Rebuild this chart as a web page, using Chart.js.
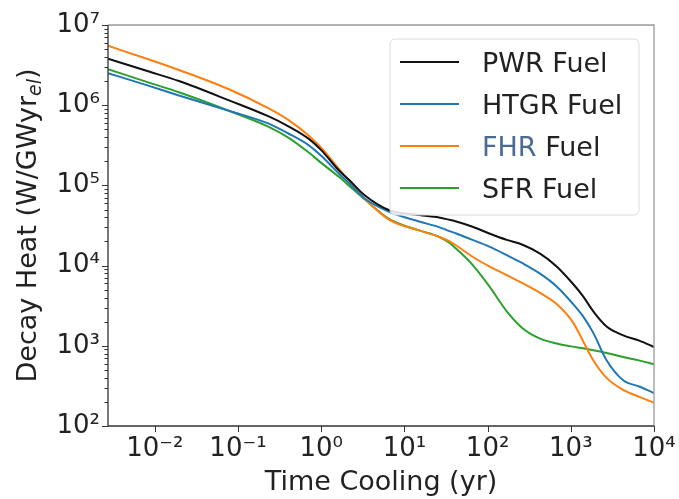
<!DOCTYPE html>
<html>
<head>
<meta charset="utf-8">
<script src="https://cdn.jsdelivr.net/npm/chart.js@4.4.0/dist/chart.umd.min.js"></script>
<style>
  html, body { margin: 0; padding: 0; background: #fff; }
</style>
</head>
<body>
<canvas id="decayChart" width="679" height="499"></canvas>
<script>
// cooling time (yr) and decay heat (W/GWyr_el)
var years = [0.00274, 0.00851, 0.0195, 0.078, 0.234, 0.398, 0.71, 1.0, 1.66, 2.2, 3.3, 6.6, 15, 26, 35, 42, 66, 105, 170, 263, 427, 676, 1047, 1400, 1862, 2692, 4266, 6761, 10000];

var pwrFuel = [3.80e6, 2.63e6, 2.00e6, 1.15e6, 7.24e5, 5.50e5, 3.80e5, 2.75e5, 1.51e5, 1.15e5, 7.59e4, 4.90e4, 4.27e4, 3.98e4, 3.72e4, 3.55e4, 3.05e4, 2.51e4, 2.09e4, 1.82e4, 1.41e4, 9770, 6030, 4170, 2690, 1740, 1350, 1150, 966];
var htgrFuel = [2.51e6, 1.74e6, 1.32e6, 8.51e5, 5.89e5, 4.47e5, 3.16e5, 2.34e5, 1.38e5, 1.05e5, 6.92e4, 4.68e4, 3.55e4, 3.02e4, 2.69e4, 2.51e4, 2.09e4, 1.72e4, 1.35e4, 1.07e4, 7940, 5500, 3390, 2340, 1450, 661, 372, 309, 257];
var fhrFuel = [5.50e6, 3.72e6, 2.75e6, 1.58e6, 9.12e5, 6.61e5, 4.17e5, 2.95e5, 1.58e5, 1.12e5, 6.92e4, 3.72e4, 2.75e4, 2.29e4, 2.00e4, 1.78e4, 1.29e4, 9770, 7590, 6030, 4570, 3310, 2000, 1150, 661, 398, 282, 229, 195];
var sfrFuel = [2.82e6, 1.91e6, 1.45e6, 8.51e5, 5.37e5, 3.98e5, 2.57e5, 1.91e5, 1.26e5, 9.77e4, 6.76e4, 3.80e4, 2.75e4, 2.29e4, 1.91e4, 1.62e4, 1.02e4, 5500, 2690, 1660, 1230, 1070, 977, 933, 881, 813, 724, 653, 589];

var seriesNames = ['PWR Fuel', 'HTGR Fuel', 'FHR Fuel', 'SFR Fuel'];
var seriesColors = ['#111111', '#1f77b4', '#ff7f0e', '#2ca02c'];

var xTicks = [1e-2, 1e-1, 1, 10, 100, 1000, 10000];
var xTickLabels = ['10⁻²', '10⁻¹', '10⁰', '10¹', '10²', '10³', '10⁴'];
var yTicks = [1e2, 1e3, 1e4, 1e5, 1e6, 1e7];
var yTickLabels = ['10²', '10³', '10⁴', '10⁵', '10⁶', '10⁷'];

var FONT = 'DejaVu Sans';

function toPoints(vals) {
  var pts = [];
  for (var i = 0; i < years.length; i++) {
    pts.push({ x: years[i], y: vals[i] });
  }
  return pts;
}

// y minor ticks at 2..9 of each decade
var yAllTicks = [];
for (var d = 0; d < yTicks.length; d++) {
  yAllTicks.push({ value: yTicks[d], major: true });
  if (d < yTicks.length - 1) {
    for (var m = 2; m <= 9; m++) yAllTicks.push({ value: yTicks[d] * m, major: false });
  }
}

var extras = {
  id: 'extras',
  afterDraw: function(chart) {
    var ctx = chart.ctx;
    var a = chart.chartArea;
    var xs = chart.scales.x, ys = chart.scales.y;
    ctx.save();

    // frame
    ctx.lineWidth = 1.3;
    ctx.strokeStyle = '#9a9a9a';
    ctx.beginPath();
    ctx.moveTo(a.left, a.top); ctx.lineTo(a.right, a.top); ctx.lineTo(a.right, a.bottom);
    ctx.stroke();
    ctx.strokeStyle = '#333';
    ctx.beginPath();
    ctx.moveTo(a.left, a.top); ctx.lineTo(a.left, a.bottom); ctx.lineTo(a.right, a.bottom);
    ctx.stroke();

    // tick marks
    ctx.lineWidth = 1;
    ctx.strokeStyle = '#333';
    ctx.beginPath();
    xTicks.forEach(function(v) {
      var px = Math.round(xs.getPixelForValue(v)) + 0.5;
      ctx.moveTo(px, a.bottom); ctx.lineTo(px, a.bottom + 6);
    });
    yAllTicks.forEach(function(t) {
      var py = Math.round(ys.getPixelForValue(t.value)) + 0.5;
      ctx.moveTo(a.left, py); ctx.lineTo(a.left - (t.major ? 6 : 3.5), py);
    });
    ctx.stroke();

    // axis titles
    ctx.fillStyle = '#222';
    ctx.font = '27px "' + FONT + '"';
    ctx.textAlign = 'center';
    ctx.textBaseline = 'alphabetic';
    ctx.fillText('Time Cooling (yr)', (a.left + a.right) / 2, 490);

    ctx.translate(36, (a.top + a.bottom) / 2);
    ctx.rotate(-Math.PI / 2);
    var main = 'Decay Heat (W/GWyr';
    ctx.font = '27px "' + FONT + '"';
    var w1 = ctx.measureText(main).width;
    var w3 = ctx.measureText(')').width;
    ctx.font = 'italic 19px "' + FONT + '"';
    var w2 = ctx.measureText('el').width;
    var start = -(w1 + w2 + w3) / 2;
    ctx.textAlign = 'left';
    ctx.font = '27px "' + FONT + '"';
    ctx.fillText(main, start, 0);
    ctx.font = 'italic 19px "' + FONT + '"';
    ctx.fillText('el', start + w1, 5);
    ctx.font = '27px "' + FONT + '"';
    ctx.fillText(')', start + w1 + w2, 0);
    ctx.restore();

    // legend
    ctx.save();
    var bx = 390, by = 39, bw = 249, bh = 176, r = 5;
    ctx.fillStyle = 'rgba(255,255,255,0.85)';
    ctx.strokeStyle = '#dcdcdc';
    ctx.lineWidth = 1;
    ctx.beginPath();
    ctx.moveTo(bx + r, by);
    ctx.arcTo(bx + bw, by, bx + bw, by + bh, r);
    ctx.arcTo(bx + bw, by + bh, bx, by + bh, r);
    ctx.arcTo(bx, by + bh, bx, by, r);
    ctx.arcTo(bx, by, bx + bw, by, r);
    ctx.closePath();
    ctx.fill();
    ctx.stroke();
    ctx.font = '27px "' + FONT + '"';
    ctx.textAlign = 'left';
    ctx.textBaseline = 'alphabetic';
    for (var i = 0; i < seriesNames.length; i++) {
      var cy = 62 + i * 42;
      ctx.strokeStyle = seriesColors[i];
      ctx.lineWidth = 2;
      ctx.beginPath();
      ctx.moveTo(400, cy); ctx.lineTo(459, cy);
      ctx.stroke();
      var parts = seriesNames[i].split(' ');
      ctx.fillStyle = i === 2 ? '#4a6c94' : '#222';
      ctx.fillText(parts[0], 482, cy + 10);
      var pw = ctx.measureText(parts[0] + ' ').width;
      ctx.fillStyle = '#222';
      ctx.fillText(parts[1], 482 + pw, cy + 10);
    }
    ctx.restore();
  }
};

var datasets = [pwrFuel, htgrFuel, fhrFuel, sfrFuel].map(function(vals, i) {
  return {
    label: seriesNames[i],
    data: toPoints(vals),
    borderColor: seriesColors[i],
    backgroundColor: seriesColors[i],
    borderWidth: 2,
    pointRadius: 0,
    cubicInterpolationMode: 'monotone',
    fill: false
  };
});

var ctx = document.getElementById('decayChart');
var chart = new Chart(ctx, {
  type: 'line',
  data: { datasets: datasets },
  options: {
    responsive: false,
    animation: false,
    layout: { padding: { top: 25, right: 25, left: 0, bottom: 0 } },
    plugins: { legend: { display: false }, tooltip: { enabled: false } },
    scales: {
      x: {
        type: 'logarithmic',
        min: 1 / 365,
        max: 1e4,
        grid: { display: false, drawTicks: false },
        border: { display: false },
        afterBuildTicks: function(scale) {
          scale.ticks = xTicks.map(function(v) { return { value: v, major: true }; });
        },
        afterFit: function(scale) {
          scale.height = 73;
          scale.paddingLeft = 0;
          scale.paddingRight = 0;
        },
        ticks: {
          autoSkip: false,
          maxRotation: 0,
          padding: 8,
          color: '#222',
          font: { family: FONT, size: 26 },
          callback: function(value, index) { return xTickLabels[index]; }
        }
      },
      y: {
        type: 'logarithmic',
        min: 1e2,
        max: 1e7,
        grid: { display: false, drawTicks: false },
        border: { display: false },
        afterBuildTicks: function(scale) {
          scale.ticks = yAllTicks.map(function(t) { return { value: t.value, major: t.major }; });
        },
        afterFit: function(scale) {
          scale.width = 108;
          scale.paddingTop = 0;
          scale.paddingBottom = 0;
        },
        ticks: {
          autoSkip: false,
          padding: 8,
          color: '#222',
          font: { family: FONT, size: 26 },
          callback: function(value) {
            var k = yTicks.indexOf(value);
            return k >= 0 ? yTickLabels[k] : '';
          }
        }
      }
    }
  },
  plugins: [extras]
});
</script>
</body>
</html>
